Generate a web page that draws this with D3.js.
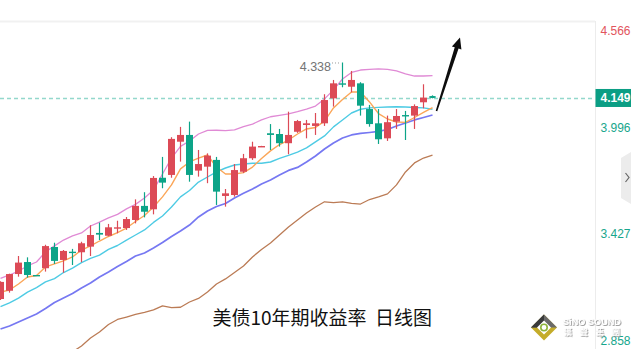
<!DOCTYPE html>
<html>
<head>
<meta charset="utf-8">
<script src="https://cdn.jsdelivr.net/npm/d3@7/dist/d3.min.js"></script>
<style>
  html, body { margin: 0; padding: 0; background: #ffffff; }
  svg { display: block; }
</style>
</head>
<body>
<svg id="chart" width="631" height="349"></svg>
<script>
// Daily candles: open / high / low / close
const openVals  = [3.078,3.122,3.211,3.275,3.206,3.242,3.355,3.286,3.330,3.327,3.357,3.430,3.415,3.456,3.456,3.499,3.574,3.556,3.724,3.739,3.916,3.952,3.762,3.783,3.819,3.627,3.632,3.756,3.828,3.890,3.961,3.957,3.908,3.969,4.005,4.000,4.014,4.147,4.227,4.209,4.227,4.090,4.014,3.934,4.023,4.058,4.055,4.126,4.160];
const highVals  = [3.172,3.213,3.307,3.300,3.206,3.367,3.378,3.339,3.345,3.383,3.471,3.485,3.478,3.495,3.515,3.609,3.647,3.733,3.835,3.940,3.995,4.023,3.872,3.854,3.835,3.664,3.797,3.851,3.916,3.894,4.010,3.984,4.076,4.032,4.032,4.069,4.169,4.245,4.338,4.293,4.233,4.112,4.090,4.055,4.090,4.080,4.115,4.222,4.163];
const lowVals   = [3.073,3.112,3.197,3.192,3.204,3.224,3.265,3.218,3.259,3.274,3.307,3.392,3.412,3.428,3.446,3.481,3.513,3.529,3.668,3.724,3.810,3.703,3.730,3.695,3.579,3.570,3.623,3.749,3.819,3.889,3.872,3.890,3.849,3.963,3.934,3.952,4.000,4.103,4.206,4.179,4.055,3.996,3.904,3.920,3.984,3.925,3.984,4.094,4.147];
const closeVals = [3.169,3.211,3.272,3.206,3.204,3.360,3.281,3.334,3.324,3.375,3.419,3.421,3.460,3.460,3.504,3.574,3.543,3.723,3.698,3.931,3.952,3.739,3.797,3.842,3.650,3.641,3.765,3.828,3.890,3.893,3.952,3.908,3.952,4.026,4.014,4.014,4.138,4.227,4.222,4.245,4.108,4.010,3.929,4.020,4.053,4.053,4.106,4.151,4.149];

// Overlay lines
const ma5  = [3.115,3.126,3.158,3.195,3.203,3.249,3.265,3.281,3.302,3.339,3.361,3.387,3.411,3.432,3.456,3.491,3.523,3.568,3.622,3.686,3.771,3.808,3.829,3.845,3.781,3.744,3.744,3.751,3.781,3.827,3.867,3.901,3.925,3.957,3.984,3.992,4.026,4.096,4.141,4.181,4.181,4.128,4.066,4.037,4.021,4.019,4.045,4.072,4.098];
const ma10 = [3.037,3.057,3.083,3.115,3.139,3.169,3.187,3.219,3.243,3.272,3.294,3.312,3.342,3.363,3.392,3.419,3.446,3.486,3.520,3.568,3.622,3.656,3.701,3.728,3.755,3.776,3.792,3.797,3.801,3.801,3.808,3.827,3.843,3.861,3.883,3.915,3.947,3.995,4.032,4.069,4.089,4.096,4.099,4.101,4.102,4.101,4.098,4.096,4.089];
const ma20 = [2.918,2.934,2.956,2.977,2.998,3.027,3.059,3.083,3.107,3.137,3.163,3.195,3.222,3.251,3.278,3.307,3.323,3.350,3.379,3.411,3.440,3.472,3.515,3.547,3.571,3.587,3.616,3.641,3.664,3.691,3.712,3.739,3.763,3.779,3.808,3.840,3.877,3.909,3.936,3.952,3.960,3.965,3.971,3.981,4.000,4.016,4.032,4.045,4.058];
const upperBand = [3.188,3.206,3.227,3.254,3.275,3.329,3.361,3.392,3.414,3.430,3.467,3.488,3.510,3.529,3.558,3.582,3.616,3.659,3.744,3.829,3.891,3.920,3.957,3.976,3.977,3.975,3.979,3.996,4.010,4.032,4.049,4.056,4.064,4.076,4.090,4.106,4.144,4.192,4.250,4.285,4.298,4.301,4.304,4.301,4.293,4.277,4.266,4.266,4.268];
const ma60 = [null,null,null,null,null,null,null,null,2.796,2.828,2.870,2.902,2.942,2.969,2.982,2.996,3.007,3.020,3.041,3.032,3.034,3.062,3.081,3.115,3.158,3.185,3.219,3.254,3.302,3.342,3.376,3.419,3.462,3.499,3.536,3.568,3.596,3.591,3.596,3.587,3.584,3.608,3.622,3.638,3.686,3.755,3.803,3.829,3.845];

// Price axis
const axisTicks = [4.566, 3.996, 3.427, 2.858];
const lastPrice = 4.149;
const peakValue = 4.338;
const peakIndex = 38;
const titleText = "美债10年期收益率  日线图";

const W = 631, H = 349;
const plotRight = 595, plotTop = 22;
const UP = "#dc4a56", DOWN = "#0ca488";

const svg = d3.select("#chart");

const x = d3.scaleLinear().domain([0, closeVals.length - 1]).range([0.5, 432.5]);
const y = d3.scaleLinear().domain([2.858, 4.566]).range([340.3, 19.7]);

const defs = svg.append("defs");
defs.append("clipPath").attr("id", "plotClip")
  .append("rect").attr("x", 0).attr("y", plotTop).attr("width", plotRight).attr("height", H - plotTop);
defs.append("filter").attr("id", "brandShadow").attr("x", "-10%").attr("y", "-30%").attr("width", "130%").attr("height", "180%")
  .append("feDropShadow").attr("dx", 0.8).attr("dy", 0.8).attr("stdDeviation", 0.4)
  .attr("flood-color", "#8a8a8a").attr("flood-opacity", 1);

// frame
svg.append("rect").attr("x", 0).attr("y", 0).attr("width", W).attr("height", H).attr("fill", "#fff");
svg.append("line").attr("x1", 0).attr("x2", plotRight).attr("y1", 21.5).attr("y2", 21.5)
  .attr("stroke", "#f1f1f1").attr("stroke-width", 2);
svg.append("line").attr("x1", plotRight + 0.5).attr("x2", plotRight + 0.5).attr("y1", 21).attr("y2", H)
  .attr("stroke", "#ececec").attr("stroke-width", 1);

const plot = svg.append("g").attr("clip-path", "url(#plotClip)");

// last price guide
plot.append("line")
  .attr("x1", 0).attr("x2", plotRight)
  .attr("y1", Math.round(y(lastPrice)) + 0.5).attr("y2", Math.round(y(lastPrice)) + 0.5)
  .attr("stroke", "#93d8cc").attr("stroke-width", 1.3).attr("stroke-dasharray", "4,3");

// overlay lines
const idx = d3.range(closeVals.length);
function drawLine(vals, color, width) {
  const gen = d3.line()
    .defined(i => vals[i] != null)
    .x(i => x(i))
    .y(i => y(vals[i]));
  plot.append("path").datum(idx)
    .attr("d", gen)
    .attr("fill", "none")
    .attr("stroke", color)
    .attr("stroke-width", width)
    .attr("stroke-linejoin", "round");
}
drawLine(ma60, "#bb7b55", 1.3);
drawLine(ma20, "#7678f2", 1.7);
drawLine(ma10, "#4ecbe4", 1.4);
drawLine(upperBand, "#e08ad5", 1.3);
drawLine(ma5, "#fba658", 1.4);

// candles
const bodyW = 7;
const candles = plot.append("g").selectAll("g").data(idx).join("g");
candles.append("line")
  .attr("x1", i => x(i)).attr("x2", i => x(i))
  .attr("y1", i => y(highVals[i])).attr("y2", i => y(lowVals[i]))
  .attr("stroke", i => closeVals[i] >= openVals[i] ? UP : DOWN)
  .attr("stroke-width", 1.2);
candles.append("rect")
  .attr("x", i => x(i) - bodyW / 2)
  .attr("width", bodyW)
  .attr("y", i => y(Math.max(openVals[i], closeVals[i])))
  .attr("height", i => Math.max(1.4, Math.abs(y(openVals[i]) - y(closeVals[i]))))
  .attr("rx", i => i === closeVals.length - 1 ? 2 : 0)
  .attr("fill", i => closeVals[i] >= openVals[i] ? UP : DOWN);

// peak marker
const peakY = y(peakValue);
plot.append("line")
  .attr("x1", 332).attr("x2", x(peakIndex) - 1.5)
  .attr("y1", peakY + 0.5).attr("y2", peakY + 0.5)
  .attr("stroke", "#9a9a9a").attr("stroke-width", 1).attr("stroke-dasharray", "1,2");
svg.append("text")
  .attr("x", 331).attr("y", peakY + 8.5)
  .attr("text-anchor", "end")
  .attr("font-family", "'Liberation Sans', Arial, sans-serif")
  .attr("font-size", 12.5)
  .attr("fill", "#747474")
  .text(peakValue.toFixed(3));

// trend arrow
const ax0 = 436.5, ay0 = 111, ax1 = 460, ay1 = 37.5;
const ang = Math.atan2(ay1 - ay0, ax1 - ax0);
const nx = -Math.sin(ang), ny = Math.cos(ang);
const headLen = 11, headHalf = 5;
const hx = ax1 - headLen * Math.cos(ang), hy = ay1 - headLen * Math.sin(ang);
const shaftPts = [
  [ax0 + nx * 0.8, ay0 + ny * 0.8],
  [hx + nx * 2.0, hy + ny * 2.0],
  [hx + nx * headHalf, hy + ny * headHalf],
  [ax1, ay1],
  [hx - nx * headHalf, hy - ny * headHalf],
  [hx - nx * 2.0, hy - ny * 2.0],
  [ax0 - nx * 0.8, ay0 - ny * 0.8]
];
svg.append("path").attr("d", d3.line()(shaftPts) + "Z").attr("fill", "#0d0d0d");

// price axis labels
const labelFont = "'Liberation Sans', Arial, sans-serif";
axisTicks.forEach(v => {
  const ty = Math.min(Math.max(y(v) + 1, 31), 342);
  svg.append("text")
    .attr("x", 600.5).attr("y", ty)
    .attr("dominant-baseline", "central")
    .attr("font-family", labelFont)
    .attr("font-size", 12)
    .attr("fill", v > lastPrice ? "#e2545d" : "#17a68c")
    .text(v.toFixed(3));
});
// last price badge
const ly = y(lastPrice);
svg.append("rect").attr("x", plotRight + 0.5).attr("y", ly - 9).attr("width", W - plotRight).attr("height", 18)
  .attr("fill", "#0b9e84");
svg.append("text")
  .attr("x", 600.5).attr("y", ly)
  .attr("dominant-baseline", "central")
  .attr("font-family", labelFont)
  .attr("font-size", 12)
  .attr("font-weight", "bold")
  .attr("fill", "#ffffff")
  .text(lastPrice.toFixed(3));

// side collapse tab
svg.append("path").attr("d", "M621,158 L631,152 L631,204 L621,198 Z").attr("fill", "#ececec");
svg.append("path").attr("d", "M625.5,173 L629,177.5 L625.5,182").attr("fill", "none")
  .attr("stroke", "#666").attr("stroke-width", 1.2);

// title
svg.append("text")
  .attr("x", 212.5).attr("y", 325)
  .attr("font-family", "'Noto Sans CJK SC', sans-serif")
  .attr("font-size", 19)
  .attr("fill", "#111")
  .style("white-space", "pre")
  .attr("xml:space", "preserve")
  .text(titleText);

// brand mark
const logo = svg.append("g").attr("transform", "translate(544,327.5)");
logo.append("path").attr("d", "M0,-13 L13,0 L0,13 L-13,0 Z").attr("fill", "#c4ac2a");
logo.append("path").attr("d", "M0,-13 L13,0 L0,0 L-13,0 Z").attr("fill", "#6a6a6a");
logo.append("path").attr("d", "M0,-13 L-13,0 L0,0 Z").attr("fill", "#3a3a3a");
logo.append("path").attr("d", "M0,-7 L7,0 L0,7 L-7,0 Z").attr("fill", "#ffffff");
logo.append("circle").attr("r", 3.2).attr("fill", "none").attr("stroke", "#8db43a").attr("stroke-width", 1.6);
const brand = svg.append("g")
  .attr("font-family", "'Liberation Sans', Arial, sans-serif")
  .attr("font-weight", "bold")
  .attr("filter", "url(#brandShadow)");
brand.append("text").attr("x", 563).attr("y", 325)
  .attr("font-size", 9.5).attr("fill", "#ffffff").attr("textLength", 58).attr("lengthAdjust", "spacingAndGlyphs")
  .text("SiNO SOUND");
brand.append("text").attr("x", 564).attr("y", 334.5)
  .attr("font-family", "'Noto Sans CJK TC', sans-serif")
  .attr("font-size", 8).attr("fill", "#ffffff").attr("textLength", 56).attr("lengthAdjust", "spacing")
  .text("漢聲集團");
</script>
</body>
</html>
